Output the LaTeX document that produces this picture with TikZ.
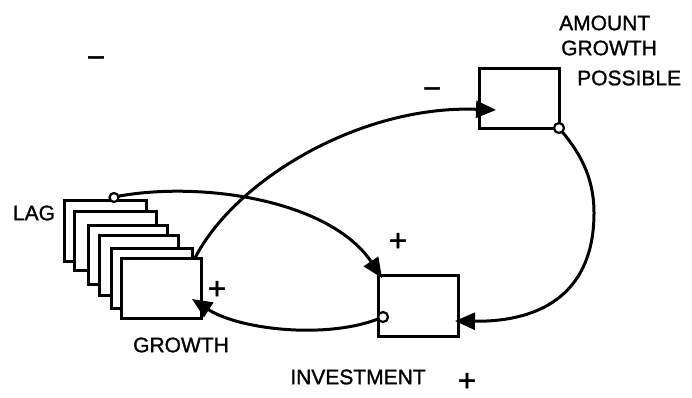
\documentclass[tikz,border=0pt]{standalone}
\usepackage{fontspec}
\setmainfont{Liberation Sans}
\usetikzlibrary{arrows.meta}
\begin{document}
\begin{tikzpicture}[x=1pt,y=-1pt,
 box/.style={draw,line width=3pt,fill=white,minimum width=80pt,minimum height=60pt,inner sep=0pt,outer sep=0pt},
 lbl/.style={font=\fontsize{21}{24}\selectfont\addfontfeature{FakeBold=1.2},inner sep=0pt},
 sgn/.style={font=\fontsize{31}{33}\selectfont\addfontfeature{FakeBold=1.5},inner sep=0pt},
 link/.style={line width=3pt,-{Triangle[length=20pt,width=17pt]}},
 port/.style={circle,draw,line width=2.2pt,fill=white,minimum size=10pt,inner sep=0pt}]
\useasboundingbox (0,0) rectangle (692,397);
% growth stack (back to front)
\node[box,minimum width=82pt,minimum height=61pt] (g1) at (105,230.5) {};
\node[box,minimum width=82pt,minimum height=59pt] (g2) at (115,240.5) {};
\node[box,minimum width=79pt,minimum height=59pt] (g3) at (127.5,254.5) {};
\node[box,minimum width=79pt,minimum height=60pt] (g4) at (138.5,265) {};
\node[box,minimum width=81pt,minimum height=60pt] (g5) at (151.5,278) {};
\node[box,minimum width=80pt,minimum height=60pt] (growth) at (161,288) {};
% other stocks
\node[box,minimum width=80pt,minimum height=60pt] (amount) at (519,98) {};
\node[box,minimum width=80pt,minimum height=61pt] (invest) at (418,305.5) {};
% connector end points
\coordinate (amountIn) at (496,110);
\coordinate (investTop) at (382,278);
\coordinate (investRight) at (455,321);
\coordinate (growthIn) at (192,299);
\coordinate (growthOut) at (195,258);
% links
\draw[link] (growthOut) .. controls (235,180) and (360,105) .. (amountIn);
\draw[link] (114,197) .. controls (200,180) and (330,200) .. (investTop);
\draw[link] (amount.south east) .. controls (578,150) and (594,175) .. (594,213)
   .. controls (594,290) and (545,322) .. (investRight);
\draw[link] (383,317) .. controls (330,340) and (240,330) .. (growthIn);
% ports
\node[port,minimum size=9pt] (lagport) at (114,197.5) {};
\node[port] (amountport) at (amount.south east) {};
\node[port] (investport) at (383,317) {};
% labels
\node[lbl,anchor=west] (tAmount) at (559,23) {AMOUNT};
\node[lbl,anchor=west] (tGrowthB) at (561,48) {GROWTH};
\node[lbl,anchor=west] (tPossible) at (577,78) {POSSIBLE};
\node[lbl] (tLag) at (34,213) {LAG};
\node[lbl] (tGrowth) at (181,345) {GROWTH};
\node[lbl] (tInvest) at (358,377) {INVESTMENT};
% signs
\node[sgn] (s1) at (96,62) {−};
\node[sgn] (s2) at (432,93) {−};
\node[sgn] (s3) at (217,290) {+};
\node[sgn] (s4) at (398,242) {+};
\node[sgn] (s5) at (467,382) {+};
\end{tikzpicture}
\end{document}
